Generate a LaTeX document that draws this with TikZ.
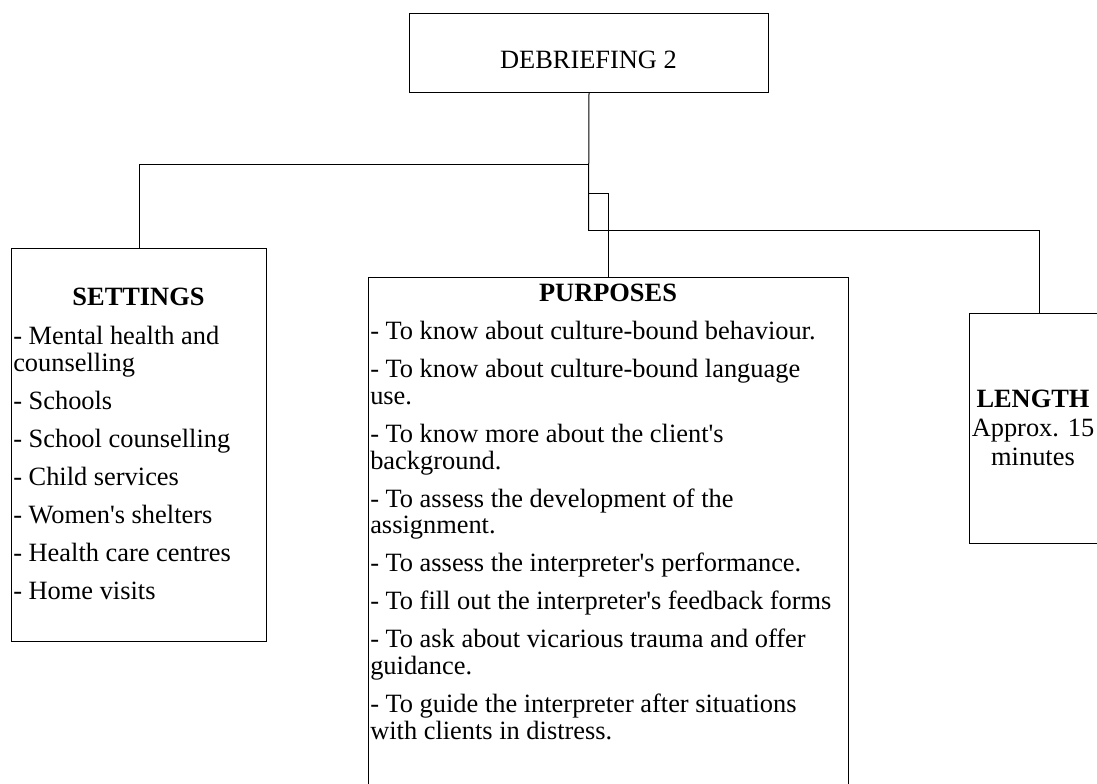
\documentclass[tikz,border=0pt]{standalone}
\usepackage{fontspec}
\setmainfont{Liberation Serif}
\begin{document}
\begin{tikzpicture}[x=0.75pt,y=-0.75pt,
  box/.style={draw=black, line width=0.75pt, inner sep=0pt, anchor=north west},
  link/.style={draw=black, line width=0.75pt},
  txt/.style={inner sep=0pt, font=\fontsize{19.8}{20}\selectfont},
  head/.style={inner sep=0pt, font=\fontsize{19.8}{20}\selectfont\bfseries},
]
\useasboundingbox (0,0) rectangle (1097,784);
\clip (0,0) rectangle (1097,784);

% boxes
\node[box, minimum width=269.25pt, minimum height=59.25pt] (deb) at (409,13) {};
\node[box, minimum width=191.25pt, minimum height=294.75pt] (set) at (11,248) {};
\node[box, minimum width=360pt, minimum height=392.25pt] (pur) at (368,277) {};
\node[box, minimum width=98.25pt, minimum height=172.5pt] (len) at (969,313) {};

% branch points of the tree
\coordinate (lb) at (588.5,165);
\coordinate (mb) at (588.5,194);
\coordinate (hub) at (588.5,231);
\coordinate (rb) at (1039,231);

\draw[link] (deb.south) -- (hub);
\draw[link] (lb) -| (set.north);
\draw[link] (mb) -| (pur.north);
\draw[link] (hub) -- (rb) -- (rb |- len.north);

% texts
\node[txt, anchor=base] (debt) at (588.5,69) {DEBRIEFING 2};

\node[head, anchor=base] (seth) at (138.5,306) {SETTINGS};
\node[txt, anchor=base west] (setl) at (13,345) {\parbox[t]{250pt}{\raggedright\setlength{\parindent}{0pt}\setlength{\parskip}{8.5pt}%
- Mental health and\\counselling\par
- Schools\par
- School counselling\par
- Child services\par
- Women\textquotesingle s shelters\par
- Health care centres\par
- Home visits}};

\node[head, anchor=base] (purh) at (608,302) {PURPOSES};
\node[txt, anchor=base west] (purl) at (370,340) {\parbox[t]{400pt}{\raggedright\setlength{\parindent}{0pt}\setlength{\parskip}{8.5pt}%
- To know about culture-bound behaviour.\par
- To know about culture-bound language\\use.\par
- To know more about the client\textquotesingle s\\background.\par
- To assess the development of the\\assignment.\par
- To assess the interpreter\textquotesingle s performance.\par
- To fill out the interpreter\textquotesingle s feedback forms\par
- To ask about vicarious trauma and offer\\guidance.\par
- To guide the interpreter after situations\\with clients in distress.}};

\node[head, anchor=base] (lenh) at (1033,407) {LENGTH};
\node[txt, anchor=base] (lent) at (1033,437) {\parbox[t]{150pt}{\centering\fontsize{19.8}{21}\selectfont Approx. 15\\minutes}};
\end{tikzpicture}
\end{document}
